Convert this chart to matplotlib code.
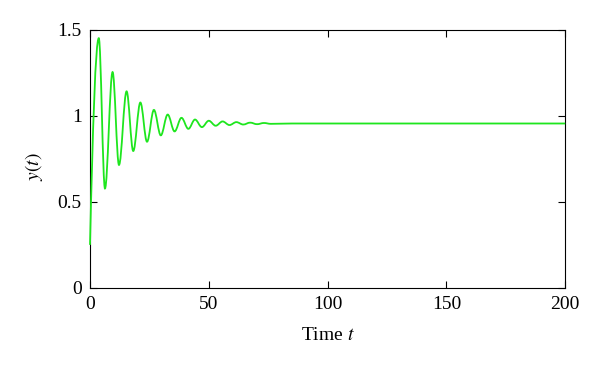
import numpy as np
import matplotlib
matplotlib.use("Agg")
import matplotlib.pyplot as plt
from matplotlib.path import Path
from matplotlib.patches import PathPatch

plt.rcParams['font.family'] = ['Liberation Serif', 'DejaVu Serif']
plt.rcParams['mathtext.fontset'] = 'stix'

# turning points of the response (start, peaks/troughs, settled tail)
t_pts = [0, 3.7, 6.3, 9.5, 12.2, 15.4, 18.2, 21.2, 24.0, 26.9, 29.8, 32.7, 35.6,
         38.5, 41.4, 44.2, 47.1, 50.0, 52.9, 55.8, 58.7, 61.6, 64.5, 67.4, 70.3,
         73.2, 76.1, 85, 200]
y_pts = [0.25, 1.452, 0.578, 1.255, 0.715, 1.143, 0.796, 1.078, 0.850, 1.035, 0.887,
         1.008, 0.910, 0.989, 0.925, 0.979, 0.935, 0.972, 0.943, 0.968, 0.947, 0.964,
         0.950, 0.961, 0.952, 0.959, 0.954, 0.956, 0.956]

xticks = [0, 50, 100, 150, 200]
yticks = [0, 0.5, 1, 1.5]
yticklabels = ['0', '0.5', '1', '1.5']

fig = plt.figure(figsize=(6, 3.7), dpi=100)
ax = fig.add_axes([0.15, 0.222, 0.792, 0.697])

# smooth curve through turning points: cubic bezier with flat tangents at extrema
verts = [(t_pts[0], y_pts[0])]
codes = [Path.MOVETO]
for i in range(len(t_pts) - 1):
    t0, y0, t1, y1 = t_pts[i], y_pts[i], t_pts[i+1], y_pts[i+1]
    dt = t1 - t0
    if i == 0:
        c1 = (t0 + 0.3*dt, y0 + 0.55*(y1 - y0))
    else:
        c1 = (t0 + 0.36*dt, y0)
    c2 = (t1 - 0.36*dt, y1)
    verts += [c1, c2, (t1, y1)]
    codes += [Path.CURVE4]*3
ax.add_patch(PathPatch(Path(verts, codes), facecolor='none', edgecolor='#1ee61e',
                       lw=1.3, clip_on=False, zorder=3))

ax.set_xlim(0, 200)
ax.set_ylim(0, 1.5)
ax.set_xticks(xticks)
ax.set_yticks(yticks)
ax.set_yticklabels(yticklabels)
ax.tick_params(direction='in', top=True, right=True, length=5, labelsize=14, pad=6)
ax.set_xlabel('Time $t$', fontsize=14, labelpad=10)
ax.set_ylabel('$y(t)$', fontsize=14, labelpad=10)
ax.yaxis.set_label_coords(-0.095, 0.47)

fig.savefig('out.png')
